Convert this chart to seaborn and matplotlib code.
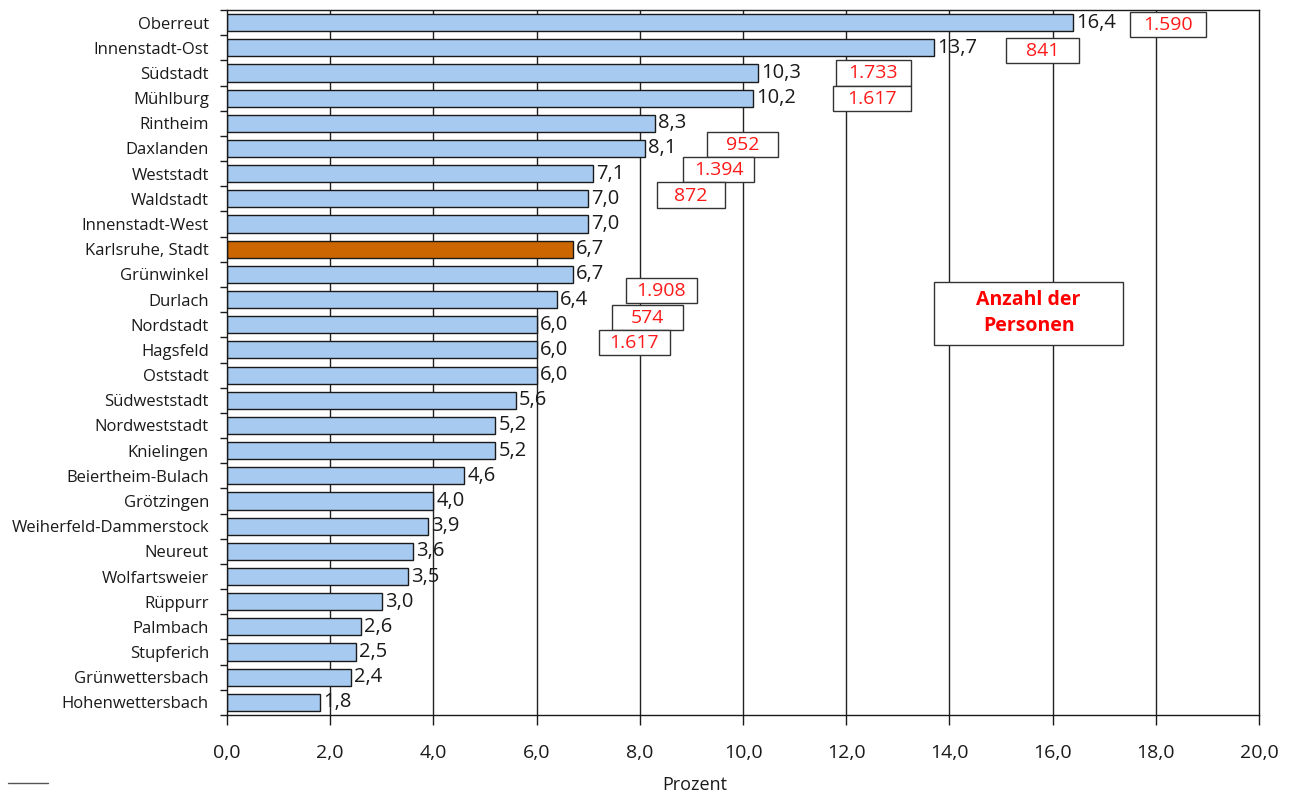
import matplotlib
matplotlib.use("Agg")
import matplotlib.pyplot as plt
from matplotlib.patches import Rectangle
from matplotlib.lines import Line2D
import seaborn as sns
import pandas as pd
import numpy as np

# Share of persons per district, in percent
districts = [
    "Oberreut", "Innenstadt-Ost", "Südstadt", "Mühlburg", "Rintheim", "Daxlanden",
    "Weststadt", "Waldstadt", "Innenstadt-West", "Karlsruhe, Stadt", "Grünwinkel",
    "Durlach", "Nordstadt", "Hagsfeld", "Oststadt", "Südweststadt", "Nordweststadt",
    "Knielingen", "Beiertheim-Bulach", "Grötzingen", "Weiherfeld-Dammerstock",
    "Neureut", "Wolfartsweier", "Rüppurr", "Palmbach", "Stupferich",
    "Grünwettersbach", "Hohenwettersbach",
]
percent = [16.4, 13.7, 10.3, 10.2, 8.3, 8.1, 7.1, 7.0, 7.0, 6.7, 6.7, 6.4, 6.0, 6.0,
           6.0, 5.6, 5.2, 5.2, 4.6, 4.0, 3.9, 3.6, 3.5, 3.0, 2.6, 2.5, 2.4, 1.8]

# Number of persons for the largest districts
count_districts = ["Oberreut", "Innenstadt-Ost", "Südstadt", "Mühlburg", "Daxlanden",
                   "Weststadt", "Waldstadt", "Durlach", "Nordstadt", "Hagsfeld"]
count_labels = ["1.590", "841", "1.733", "1.617", "952", "1.394", "872",
                "1.908", "574", "1.617"]

# Callout placement: (x left, width, y centre offset from the row)
callout_pos = [(17.5, 1.48, 0.07), (15.1, 1.42, 0.1), (11.8, 1.45, 0.0), (11.75, 1.5, 0.0),
               (9.3, 1.38, -0.16), (8.84, 1.38, -0.17), (8.33, 1.32, -0.15),
               (7.73, 1.38, -0.37), (7.46, 1.38, -0.3), (7.2, 1.38, -0.3)]

city = "Karlsruhe, Stadt"
blue = "#A6CAF0"
orange = "#CC6600"

df = pd.DataFrame({"district": districts, "percent": percent})
palette = {d: (orange if d == city else blue) for d in districts}

sns.set_style("white")
plt.rcParams["font.family"] = ["Open Sans", "DejaVu Sans"]

fig = plt.figure(figsize=(12.9, 7.95), dpi=100)
ax = fig.add_axes([227 / 1290, 1 - 715 / 795, (1259 - 227) / 1290, (715 - 10) / 795])

# gridlines behind the bars
for xv in np.arange(2, 20, 2):
    ax.axvline(xv, color="#222222", lw=1.0, zorder=0)

sns.barplot(data=df, x="percent", y="district", hue="district", palette=palette,
            order=districts, width=0.68, edgecolor="#1a1a1a", linewidth=1.0,
            saturation=1, legend=False, ax=ax, zorder=2)

# value labels with decimal comma
for i, v in enumerate(percent):
    ax.text(v + 0.06, i, f"{v:.1f}".replace(".", ","), va="center", ha="left",
            fontsize=14.5, color="#1a1a1a", zorder=5)

# person-count callouts
for name, lab, (x0, w, dy) in zip(count_districts, count_labels, callout_pos):
    row = districts.index(name)
    yc = row + dy
    ax.add_patch(Rectangle((x0, yc - 0.5), w, 1.0, facecolor="white",
                           edgecolor="#333333", lw=1.0, zorder=6))
    ax.text(x0 + w / 2, yc + 0.02, lab, ha="center", va="center", fontsize=14,
            color="#FF1A1A", zorder=7)

# heading box for the callouts
ax.add_patch(Rectangle((13.7, 10.29), 3.67, 2.5, facecolor="white",
                       edgecolor="#333333", lw=1.0, zorder=6))
ax.text(13.7 + 3.67 / 2, 11.54, "Anzahl der\nPersonen", ha="center", va="center",
        fontsize=14, fontweight="bold", color="#FF0000", linespacing=1.4, zorder=7)

ax.set_xlim(0, 20)
ax.set_ylim(len(districts) - 0.5, -0.5)
ax.set_xticks(np.arange(0, 21, 2))
ax.set_xticklabels([f"{t:.1f}".replace(".", ",") for t in np.arange(0, 21, 2)],
                   fontsize=14, color="#1a1a1a")
ax.set_yticks(range(len(districts)))
ax.set_yticklabels(districts, fontsize=12, color="#1a1a1a")
ax.set_yticks(np.arange(-0.5, len(districts), 1), minor=True)
ax.tick_params(axis="y", which="major", length=0, pad=13)
ax.tick_params(axis="y", which="minor", length=5, width=1, color="#1a1a1a", left=True)
ax.tick_params(axis="x", which="major", length=7, width=1, color="#1a1a1a",
               bottom=True, pad=14)
ax.set_xlabel("Prozent", fontsize=13, color="#1a1a1a")
ax.xaxis.set_label_coords((695 - 227) / 1032, -(776 - 715) / 705)
ax.set_ylabel("")
for s in ax.spines.values():
    s.set_color("#1a1a1a")
    s.set_linewidth(1.0)
    s.set_visible(True)

# footnote rule
fig.add_artist(Line2D([8 / 1290, 48 / 1290], [1 - 783 / 795, 1 - 783 / 795],
                      color="#555555", lw=1.0))

fig.savefig("out.png", dpi=100)
